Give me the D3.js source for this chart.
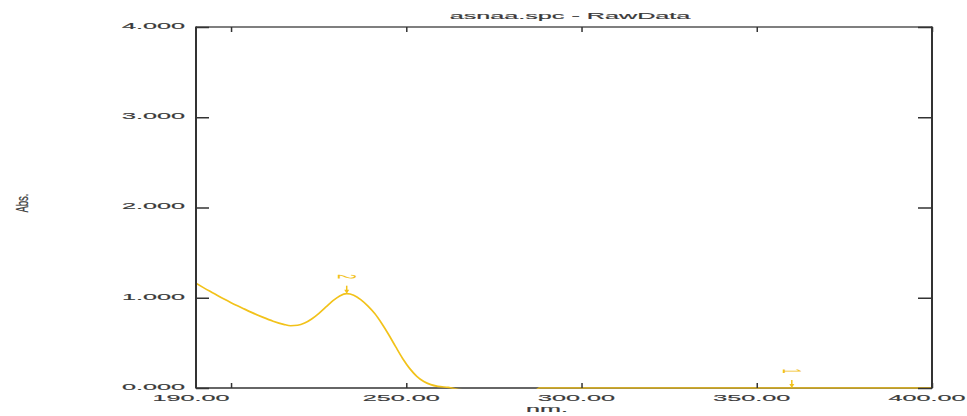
<!DOCTYPE html>
<html>
<head>
<meta charset="utf-8">
<script src="https://cdn.jsdelivr.net/npm/d3@7"></script>
<style>
  html, body { margin: 0; padding: 0; background: #fff; }
  svg { display: block; }
  text { font-family: "Liberation Sans", Arial, sans-serif; }
</style>
</head>
<body>
<svg id="chart" width="967" height="416"></svg>
<script>
// ---- data ----
const title = "asnaa.spc - RawData";
const xTitle = "nm.";
const yTitle = "Abs.";
const wavelengths = [190,192,195,198,200,203,206,209,212,215,217,219,221,223,225,227,229,231,233,235,237,239,241,243,245,247,249,251,253,255,257,259,262,266,270,275,280,287,288,300,320,340,360,380,400];
const absorbance  = [1.16,1.115,1.05,0.985,0.945,0.89,0.835,0.785,0.74,0.705,0.69,0.695,0.72,0.765,0.825,0.895,0.965,1.02,1.045,1.028,0.98,0.91,0.825,0.715,0.59,0.455,0.325,0.215,0.13,0.072,0.037,0.018,0.007,-0.02,-0.02,-0.02,-0.02,-0.02,0,0,0,0,0,0,0];
const xTickMarks  = [200,250,300,350,400];
const xTickLabels = [190,250,300,350,400];
const yTicks      = [0,1,2,3,4];
const peakLabels  = ["1","2"];
const peakWl      = [360,233];
const peakAbs     = [0,1.045];

// ---- layout ----
const svg = d3.select("#chart");
const L = 196, R = 932, T = 27, B = 388;
const SX = 3.0, FS = 8.4;
const curveColor = "#F2C21A";
const textColor = "#3a3a3a";

const x = d3.scaleLinear().domain([190,400]).range([L,R]);
const y = d3.scaleLinear().domain([0,4]).range([B,T]);

function stretched(sel, tx, ty, anchor, txt, color, rot) {
  sel.append("text")
    .attr("transform", `translate(${tx},${ty}) scale(${SX},1)` + (rot ? ` rotate(${rot})` : ""))
    .attr("text-anchor", anchor)
    .attr("dominant-baseline", "central")
    .attr("font-size", FS)
    .attr("stroke", color || textColor).attr("stroke-width", 0.15)
    .attr("fill", color || textColor)
    .text(txt);
}

// clip
svg.append("defs").append("clipPath").attr("id","plotclip")
  .append("rect").attr("x", L).attr("y", T).attr("width", R-L).attr("height", B-T+0.75);

// bottom axis line (drawn first, curve on top)
svg.append("line").attr("x1",L).attr("x2",R).attr("y1",B).attr("y2",B)
  .attr("stroke","#333").attr("stroke-width",1.5);

// curve
const data = wavelengths.map((w,i)=>({w, a: absorbance[i]}));
const line = d3.line().x(d=>x(d.w)).y(d=>y(d.a)).curve(d3.curveMonotoneX);
svg.append("path").datum(data)
  .attr("clip-path","url(#plotclip)")
  .attr("d", line)
  .attr("fill","none")
  .attr("stroke", curveColor)
  .attr("stroke-width", 1.7);

// frame
svg.append("line").attr("x1",L).attr("x2",R).attr("y1",T).attr("y2",T)
  .attr("stroke","#555").attr("stroke-width",1.3);
svg.append("line").attr("x1",L).attr("x2",L).attr("y1",T-0.5).attr("y2",B+0.5)
  .attr("stroke","#333").attr("stroke-width",2);
svg.append("line").attr("x1",R).attr("x2",R).attr("y1",T-0.5).attr("y2",B+0.5)
  .attr("stroke","#333").attr("stroke-width",2);

// tick marks via d3 axes
const axB = svg.append("g").attr("transform",`translate(0,${B})`)
  .call(d3.axisBottom(x).tickValues(xTickMarks).tickSize(-5).tickFormat(""));
const axT = svg.append("g").attr("transform",`translate(0,${T})`)
  .call(d3.axisTop(x).tickValues(xTickMarks).tickSize(-5).tickFormat(""));
const axL = svg.append("g").attr("transform",`translate(${L},0)`)
  .call(d3.axisLeft(y).tickValues(yTicks).tickSize(-13).tickFormat(""));
const axR = svg.append("g").attr("transform",`translate(${R},0)`)
  .call(d3.axisRight(y).tickValues(yTicks).tickSize(-14).tickFormat(""));
[axB,axT,axL,axR].forEach(g=>{
  g.select(".domain").remove();
  g.selectAll(".tick line").attr("stroke","#333").attr("stroke-width",1.5);
});

// tick labels
const gLab = svg.append("g");
xTickLabels.forEach(v => stretched(gLab, x(v)-5, 398, "middle", d3.format(".2f")(v)));
yTicks.forEach(v => stretched(gLab, 185, y(v)-1, "end", d3.format(".3f")(v)));

// titles
stretched(svg, 570, 16, "middle", title);
stretched(svg, 547, 409, "middle", xTitle);
svg.append("text")
  .attr("transform", `translate(23,203) scale(1.7,1) rotate(-90)`)
  .attr("text-anchor","middle").attr("dominant-baseline","central")
  .attr("font-size", 9.5).attr("fill",textColor)
  .attr("stroke",textColor).attr("stroke-width",0.15).text(yTitle);

// peak markers
const gPk = svg.append("g");
peakLabels.forEach((lab,i)=>{
  const px = x(peakWl[i]), py = y(peakAbs[i]);
  gPk.append("line").attr("x1",px).attr("x2",px).attr("y1",py-8).attr("y2",py-2)
    .attr("stroke",curveColor).attr("stroke-width",1.5);
  gPk.append("path").attr("d",`M${px-2.5},${py-4}L${px+2.5},${py-4}L${px},${py}Z`)
    .attr("fill",curveColor);
  gPk.append("text")
    .attr("transform", `translate(${px},${py-17}) scale(${SX},1) rotate(90)`)
    .attr("text-anchor","middle").attr("dominant-baseline","central")
    .attr("font-size", FS).attr("fill", curveColor).text(lab);
});
</script>
</body>
</html>
